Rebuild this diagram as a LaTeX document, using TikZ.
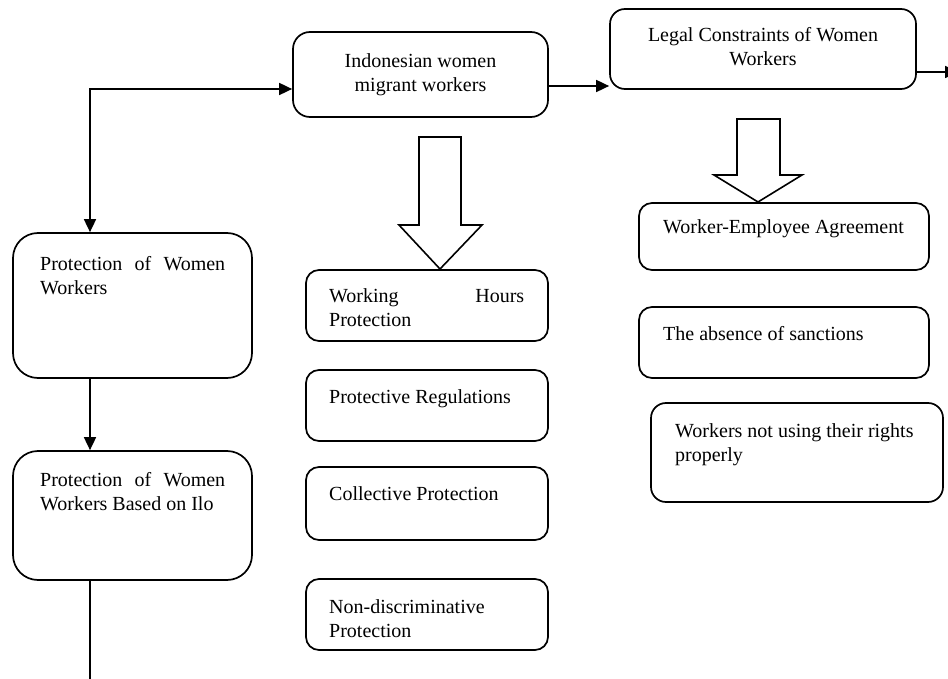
\documentclass[tikz,border=0pt]{standalone}
\usepackage{fontspec}
\setmainfont{Liberation Serif}
\usetikzlibrary{arrows.meta}
\begin{document}
\begin{tikzpicture}[x=1pt,y=-1pt,
  every node/.style={font=\fontsize{20}{24}\selectfont},
  box/.style={draw, line width=1.7pt, rounded corners=#1, inner sep=0pt},
  box/.default=13pt,
  lbl/.style={anchor=north west, inner sep=0pt, align=left},
  conn/.style={line width=1.7pt},
  arr/.style={line width=1.7pt, -{Triangle[length=13pt,width=12pt]}},
  darr/.style={line width=1.7pt, {Triangle[length=13pt,width=12pt]}-{Triangle[length=13pt,width=12pt]}},
  blk/.style={draw, line width=1.6pt, line join=miter}]
\clip (0,0) rectangle (948,679);

% top boxes
\node[box=17pt, minimum width=255pt, minimum height=85pt, align=center] (b1) at (420.5,74.5) {\strut Indonesian women\\\strut migrant workers};
\node[box=15pt, minimum width=306pt, minimum height=80pt, align=center] (b2) at (763,49) {\strut Legal Constraints of Women\\\strut Workers};

% left column
\node[box=25pt, minimum width=239pt, minimum height=145pt] (b4) at (132.5,305.5) {};
\node[box=25pt, minimum width=239pt, minimum height=129pt] (b5) at (132.5,515.5) {};
\node[lbl] (t4) at (40,253.2) {\strut\makebox[185pt][s]{Protection of Women}\\\strut Workers};
\node[lbl] (t5) at (40,469.2) {\strut\makebox[185pt][s]{Protection of Women}\\\strut Workers Based on Ilo};

% middle column
\node[box, minimum width=242pt, minimum height=71pt] (m1) at (427,305.5) {};
\node[box, minimum width=242pt, minimum height=71pt] (m2) at (427,405.5) {};
\node[box, minimum width=242pt, minimum height=73pt] (m3) at (427,503.5) {};
\node[box, minimum width=242pt, minimum height=71pt] (m4) at (427,614.5) {};
\node[lbl] (tm1) at (329,285.2) {\strut\makebox[195pt][s]{Working Hours}\\\strut Protection};
\node[lbl] (tm2) at (329,386.2) {\strut Protective Regulations};
\node[lbl] (tm3) at (329,483.2) {\strut Collective Protection};
\node[lbl] (tm4) at (329,596.2) {\strut Non-discriminative\\\strut Protection};

% right column
\node[box, minimum width=290pt, minimum height=67pt] (r1) at (784,236.5) {};
\node[box, minimum width=290pt, minimum height=71pt] (r2) at (784,342.5) {};
\node[box=15pt, minimum width=292pt, minimum height=99pt] (r3) at (797,452.5) {};
\node[lbl] (tr1) at (663,216.2) {\strut Worker-Employee Agreement};
\node[lbl] (tr2) at (663,323.2) {\strut The absence of sanctions};
\node[lbl] (tr3) at (675,420.2) {\strut Workers not using their rights\\\strut properly};

% block arrows
\draw[blk] (419,137) -- (461,137) -- (461,225) -- (482,225) -- (440,269) -- (399,225) -- (419,225) -- cycle;
\draw[blk] (737,119) -- (780,119) -- (780,175) -- (802,175) -- (758,202) -- (714,175) -- (737,175) -- cycle;

% connectors
\coordinate (c1) at ([yshift=-11.5pt]b1.east);
\draw[arr] (c1) -- (c1 -| b2.west);
\coordinate (c2) at ([yshift=-23pt]b2.east);
\coordinate (c2e) at (958,72);
\draw[arr] (c2) -- (c2e);
\coordinate (c3) at (90,89);
\draw[darr] (b4.north -| c3) -- (c3) -- (c3 -| b1.west);
\draw[arr] (b4.south -| c3) -- (b5.north -| c3);
\coordinate (c4) at (90,690);
\draw[conn] (b5.south -| c3) -- (c4);
\end{tikzpicture}
\end{document}
